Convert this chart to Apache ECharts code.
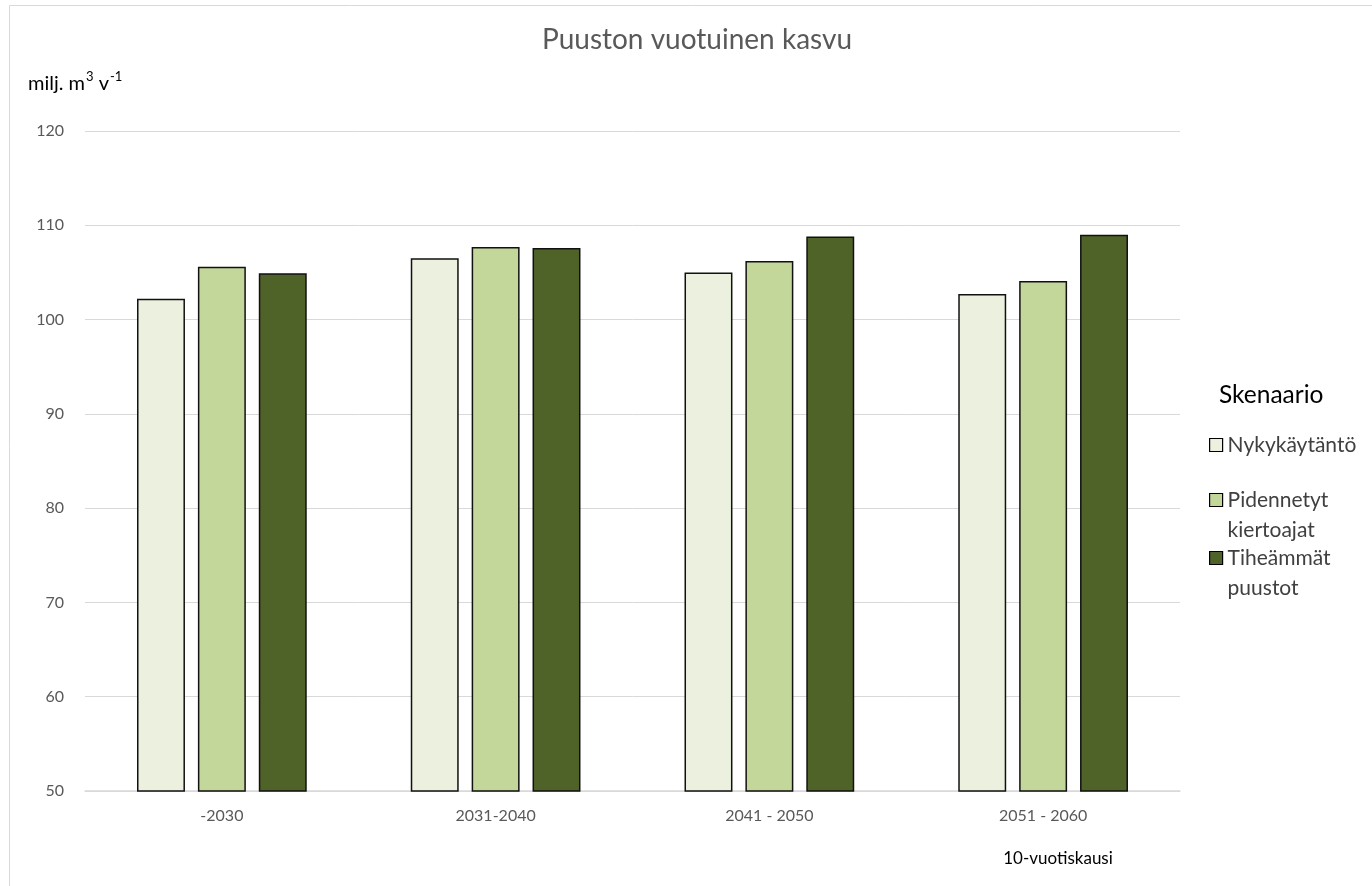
<!DOCTYPE html>
<html>
<head>
<meta charset="utf-8">
<script src="https://cdn.jsdelivr.net/npm/echarts@6/dist/echarts.min.js"></script>
<style>
  html, body { margin: 0; padding: 0; background: #fff; }
  #chart { width: 1372px; height: 886px; }
</style>
</head>
<body>
<div id="chart"></div>
<script>
// Kymmenvuotiskaudet ja skenaariot
const periods = ['-2030', '2031-2040', '2041 - 2050', '2051 - 2060'];
const scenarioNames = ['Nykykäytäntö', 'Pidennetyt kiertoajat', 'Tiheämmät puustot'];

// Puuston vuotuinen kasvu, milj. m3/v
const nykykaytanto = [102.2, 106.5, 105.0, 102.7];
const pidennetyt = [105.6, 107.7, 106.2, 104.1];
const tiheammat = [104.9, 107.6, 108.8, 109.0];

const yTicks = [50, 60, 70, 80, 90, 100, 110, 120];

const colors = ['#EBF1DE', '#C4D79B', '#4F6228'];
const FONT = 'Lato, "Open Sans", sans-serif';

const seriesValues = [nykykaytanto, pidennetyt, tiheammat];

const chart = echarts.init(document.getElementById('chart'), null, { renderer: 'canvas' });

// Two-line legend entries get an empty leading line so that the first
// text line sits level with the colour square.
const legendLabels = {
  'Nykykäytäntö': 'Nykykäytäntö',
  'Pidennetyt kiertoajat': '\nPidennetyt\nkiertoajat',
  'Tiheämmät puustot': '\nTiheämmät\npuustot'
};
const legendTops = [430, 455, 513];

chart.setOption({
  backgroundColor: '#ffffff',
  animation: false,
  title: [
    {
      text: 'Puuston vuotuinen kasvu',
      left: 697, top: 26, textAlign: 'center', padding: 0,
      textStyle: { fontFamily: FONT, fontSize: 28, fontWeight: 'normal', color: '#595959' }
    },
    {
      text: '{b|milj. m}{s|3}{b| v}{s|-1}',
      left: 28, top: 70, padding: 0,
      textStyle: {
        fontWeight: 'normal',
        rich: {
          b: { fontFamily: FONT, fontSize: 20, fontWeight: 'normal', color: '#000000', verticalAlign: 'bottom', lineHeight: 24 },
          s: { fontFamily: FONT, fontSize: 13, fontWeight: 'normal', color: '#000000', verticalAlign: 'top', lineHeight: 24, padding: [0, 0, 6, 1] }
        }
      }
    },
    {
      text: '10-vuotiskausi',
      left: 1058, top: 850, textAlign: 'center', padding: 0,
      textStyle: { fontFamily: FONT, fontSize: 17, fontWeight: 'normal', color: '#000000' }
    },
    {
      text: 'Skenaario',
      left: 1219, top: 383, padding: 0,
      textStyle: { fontFamily: FONT, fontSize: 24.5, fontWeight: 'normal', color: '#000000' }
    }
  ],
  legend: scenarioNames.map((name, i) => ({
    data: [{ name: name, icon: 'rect' }],
    orient: 'vertical',
    left: 1209,
    top: legendTops[i],
    itemWidth: 13,
    itemHeight: 13,
    itemGap: 0,
    padding: 0,
    selectedMode: false,
    formatter: n => legendLabels[n],
    textStyle: { fontFamily: FONT, fontSize: 21, color: '#404040', lineHeight: 30 },
    itemStyle: { borderColor: '#000000', borderWidth: 1.2 }
  })),
  grid: { left: 85, right: 192, top: 131, bottom: 95, containLabel: false },
  xAxis: {
    type: 'category',
    data: periods,
    axisLine: { show: true, lineStyle: { color: '#d9d9d9', width: 1.5 } },
    axisTick: { show: false },
    axisLabel: { fontFamily: FONT, fontSize: 16, color: '#595959', margin: 17 }
  },
  yAxis: {
    type: 'value',
    min: yTicks[0],
    max: yTicks[yTicks.length - 1],
    interval: 10,
    axisLine: { show: false },
    axisTick: { show: false },
    axisLabel: { fontFamily: FONT, fontSize: 16, color: '#595959', margin: 21 },
    splitLine: { show: true, lineStyle: { color: '#d9d9d9', width: 1 } }
  },
  series: scenarioNames.map((name, i) => ({
    name: name,
    type: 'bar',
    data: seriesValues[i],
    barGap: '27%',
    barCategoryGap: '38%',
    itemStyle: { color: colors[i], borderColor: '#111111', borderWidth: 1.5 }
  })),
  graphic: [
    {
      type: 'rect',
      silent: true,
      z: -1,
      shape: { x: 9.5, y: 5.5, width: 1400, height: 1000 },
      style: { fill: 'none', stroke: '#d9d9d9', lineWidth: 1 }
    }
  ]
});
</script>
</body>
</html>
